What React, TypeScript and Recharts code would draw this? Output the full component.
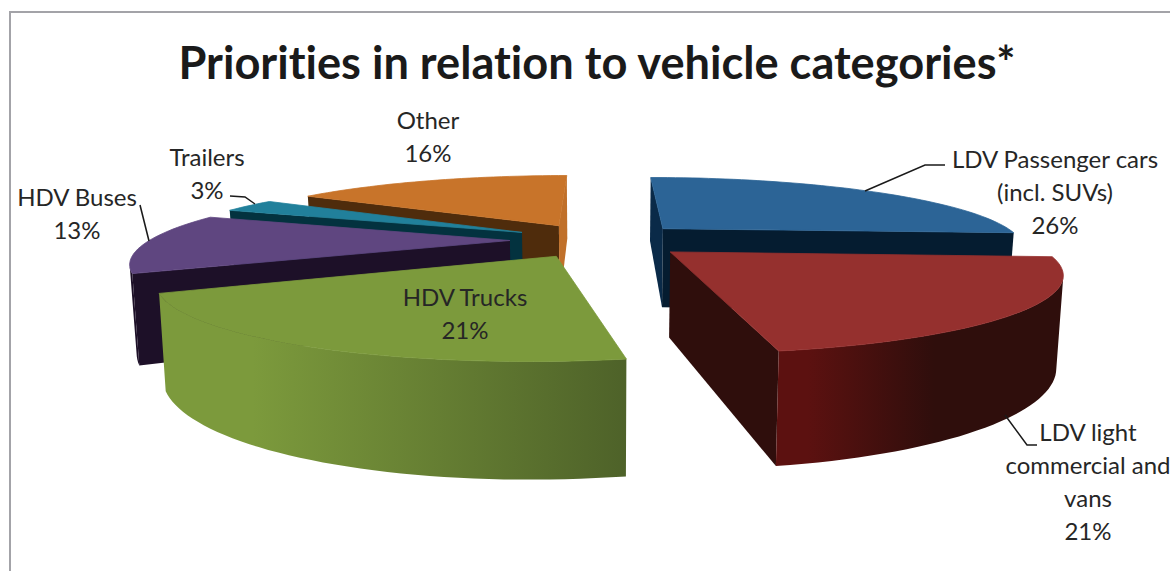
import React from "react";
import { PieChart, Pie } from "recharts";

const titleText = "Priorities in relation to vehicle categories*";
// Listed so that near slices paint over far ones; the sweep runs counter-clockwise from the end of the first slice.
const sliceNames = ["LDV Passenger cars (incl. SUVs)", "Other", "Trailers", "HDV Buses", "HDV Trucks", "LDV light commercial and vans"];
const sliceValues = [26, 16, 3, 13, 21, 21];
const rows = sliceNames.map((name, i) => ({ name, value: sliceValues[i] }));

type Look = { top: string; wallA: string; wallB: string; from: string; to: string; toAt: number; lines: string[]; x: number; y: number; leader?: number[][] };
const looks: Record<string, Look> = {
  "LDV Passenger cars (incl. SUVs)": { top: "#2c6496", wallA: "#0a2a48", wallB: "#051c30", from: "#051c30", to: "#051c30", toAt: 1, lines: ["LDV Passenger cars", "(incl. SUVs)"], x: 1055, y: 168, leader: [[865, 191], [925, 165], [945, 165]] },
  "Other": { top: "#c8742a", wallA: "#4f2c0c", wallB: "#c0702a", from: "#c8742a", to: "#c8742a", toAt: 1, lines: ["Other"], x: 428, y: 129 },
  "Trailers": { top: "#21809b", wallA: "#03323f", wallB: "#03323f", from: "#21809b", to: "#21809b", toAt: 1, lines: ["Trailers"], x: 207, y: 166, leader: [[230, 196], [245, 197], [255, 204]] },
  "HDV Buses": { top: "#5f4680", wallA: "#1d1028", wallB: "#1d1028", from: "#1d1028", to: "#1d1028", toAt: 1, lines: ["HDV Buses"], x: 77, y: 206, leader: [[140, 205], [149, 241]] },
  "HDV Trucks": { top: "#7c9a3c", wallA: "#4e6229", wallB: "#4e6229", from: "#7c9a3c", to: "#4e6229", toAt: 1, lines: ["HDV Trucks"], x: 465, y: 306 },
  "LDV light commercial and vans": { top: "#95302e", wallA: "#2f0e0c", wallB: "#2f0e0c", from: "#5c1110", to: "#2f0e0c", toAt: 0.55, lines: ["LDV light", "commercial and", "vans"], x: 1088, y: 441, leader: [[1005, 415], [1027, 445], [1037, 445]] },
};

const CHART_W = 1170;
const CHART_H = 571;
const EXPLODE = 0.25;
const DIST = 4;
const SQUASH = 69;
const DEPTH = 82;
const BOTTOM_SHRINK = 0.985;
const FRONT_SKEW = 8;
const FONT = "Lato, 'Open Sans', sans-serif";
const TEXT_STYLE = { fontVariantLigatures: "none" } as const;

type P = [number, number];
const toPath = (pts: P[]) => "M" + pts.map((p) => `${p[0].toFixed(1)},${p[1].toFixed(1)}`).join("L") + "Z";
const area = (pts: P[]) => pts.reduce((s, p, i) => {
  const q = pts[(i + 1) % pts.length];
  return s + p[0] * q[1] - q[0] * p[1];
}, 0);

function Slice3D(props: any) {
  const { cx, cy, outerRadius, startAngle, endAngle, name } = props;
  const look = looks[name];
  // clockwise-from-top angles in radians
  const a0 = ((90 - Math.max(startAngle, endAngle)) * Math.PI) / 180;
  const a1 = ((90 - Math.min(startAngle, endAngle)) * Math.PI) / 180;
  const mid = (a0 + a1) / 2;
  const ox = EXPLODE * Math.sin(mid);
  const oy = -EXPLODE * Math.cos(mid);
  const project = (X: number, Y: number, low: boolean): P => {
    const f = DIST / (DIST - Y);
    const k = low ? BOTTOM_SHRINK : 1;
    const skew = Y > 0 ? FRONT_SKEW * Y * Y : 0;
    return [cx + outerRadius * X * f * k - skew, cy + SQUASH * Y * f + (low ? DEPTH * f : 0)];
  };
  const world = (t: number): [number, number] => [ox + Math.sin(t), oy - Math.cos(t)];
  const steps = Math.max(2, Math.ceil((a1 - a0) / 0.03));
  const arc: [number, number][] = [];
  for (let i = 0; i <= steps; i++) arc.push(world(a0 + ((a1 - a0) * i) / steps));
  const apex: [number, number] = [ox, oy];
  const wall = (a: [number, number], b: [number, number]): P[] => [
    project(a[0], a[1], false),
    project(b[0], b[1], false),
    project(b[0], b[1], true),
    project(a[0], a[1], true),
  ];
  const wallA = wall(apex, arc[0]);
  const wallB = wall(arc[steps], apex);
  const upper: P[] = [];
  const lower: P[] = [];
  for (let i = 0; i < steps; i++) {
    if (area(wall(arc[i], arc[i + 1])) < 0) {
      if (!upper.length) upper.push(project(arc[i][0], arc[i][1], false));
      if (!lower.length) lower.push(project(arc[i][0], arc[i][1], true));
      upper.push(project(arc[i + 1][0], arc[i + 1][1], false));
      lower.push(project(arc[i + 1][0], arc[i + 1][1], true));
    }
  }
  const top: P[] = [project(apex[0], apex[1], false), ...arc.map((w) => project(w[0], w[1], false))];
  const gradId = `wall-${props.index}`;
  return (
    <g>
      <defs>
        <linearGradient id={gradId} x1="0" y1="0" x2="1" y2="0">
          <stop offset="0" stopColor={look.from} />
          <stop offset={0.2 * look.toAt} stopColor={look.from} />
          <stop offset={look.toAt} stopColor={look.to} />
        </linearGradient>
      </defs>
      {area(wallA) < 0 && <path d={toPath(wallA)} fill={look.wallA} />}
      {area(wallB) < 0 && <path d={toPath(wallB)} fill={look.wallB} />}
      {upper.length > 1 && <path d={toPath([...upper, ...lower.slice().reverse()])} fill={`url(#${gradId})`} />}
      <path d={toPath(top)} fill={look.top} stroke={look.top} strokeWidth={0.8} strokeLinejoin="round" />
    </g>
  );
}

function SliceLabel(props: any) {
  const look = looks[props.name];
  const all = [...look.lines, `${Math.round(props.percent * 100)}%`];
  return (
    <g>
      {look.leader && (
        <polyline points={look.leader.map((p) => p.join(",")).join(" ")} fill="none" stroke="#1a1a1a" strokeWidth={1.5} />
      )}
      <text textAnchor="middle" fontFamily={FONT} fontSize={24} fill="#262626" style={TEXT_STYLE}>
        {all.map((t, i) => (
          <tspan key={i} x={look.x} y={look.y + i * 33}>{t}</tspan>
        ))}
      </text>
    </g>
  );
}

export default function App() {
  return (
    <div style={{ position: "absolute", left: 0, top: 0, width: CHART_W, height: CHART_H, overflow: "hidden", background: "#fff" }}>
      <PieChart width={CHART_W} height={CHART_H} margin={{ top: 0, right: 0, bottom: 0, left: 0 }}>
        <rect x={10} y={12} width={1400} height={900} fill="none" stroke="#a3a3a8" strokeWidth={2} />
        <text x={597} y={79} textAnchor="middle" fontFamily={FONT} fontWeight={700} fontSize={45.2} fill="#1a1a1a" style={TEXT_STYLE}>{titleText}</text>
        <Pie
          data={rows}
          dataKey="value"
          nameKey="name"
          cx={600}
          cy={240}
          innerRadius={0}
          outerRadius={360}
          startAngle={-3.6}
          endAngle={356.4}
          paddingAngle={0}
          stroke="none"
          isAnimationActive={false}
          shape={Slice3D}
          label={SliceLabel}
          labelLine={false}
        />
      </PieChart>
    </div>
  );
}
